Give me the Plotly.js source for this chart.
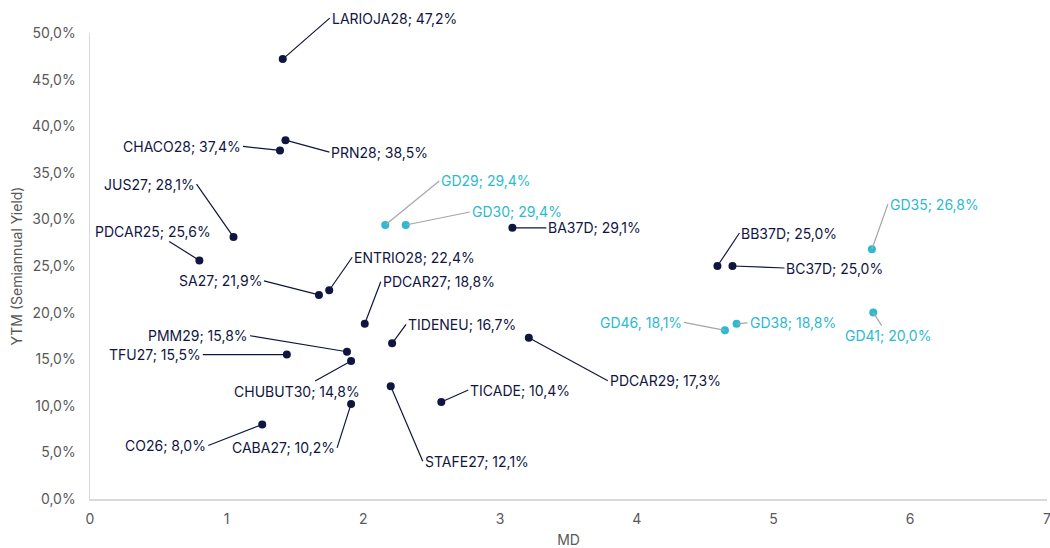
<!DOCTYPE html>
<html>
<head>
<meta charset="utf-8">
<script src="https://cdn.plot.ly/plotly-3.0.1.min.js"></script>
<style>html,body{margin:0;padding:0;background:#fff}#chart{width:1050px;height:548px}</style>
</head>
<body>
<div id="chart"></div>
<script>
// Provincial / corporate bonds (navy)
const bondNames = ["LARIOJA28","PRN28","CHACO28","JUS27","PDCAR25","SA27","ENTRIO28","PDCAR27","TIDENEU","PMM29","TFU27","CHUBUT30","CABA27","CO26","STAFE27","TICADE","PDCAR29","BA37D","BB37D","BC37D"];
const bondMD = [1.41,1.43,1.39,1.05,0.80,1.675,1.75,2.01,2.21,1.88,1.44,1.91,1.91,1.26,2.20,2.57,3.21,3.09,4.59,4.70];
const bondYTM = [0.472,0.385,0.374,0.281,0.256,0.219,0.224,0.188,0.167,0.158,0.155,0.148,0.102,0.080,0.121,0.104,0.173,0.291,0.250,0.250];
const bondLabels = ["LARIOJA28; 47,2%","PRN28; 38,5%","CHACO28; 37,4%","JUS27; 28,1%","PDCAR25; 25,6%","SA27; 21,9%","ENTRIO28; 22,4%","PDCAR27; 18,8%","TIDENEU; 16,7%","PMM29; 15,8%","TFU27; 15,5%","CHUBUT30; 14,8%","CABA27; 10,2%","CO26; 8,0%","STAFE27; 12,1%","TICADE; 10,4%","PDCAR29; 17,3%","BA37D; 29,1%","BB37D; 25,0%","BC37D; 25,0%"];

// Sovereign GD bonds (cyan)
const gdNames = ["GD29","GD30","GD35","GD41","GD46","GD38"];
const gdMD = [2.16,2.31,5.72,5.73,4.645,4.73];
const gdYTM = [0.294,0.294,0.268,0.200,0.181,0.188];
const gdLabels = ["GD29; 29,4%","GD30; 29,4%","GD35; 26,8%","GD41; 20,0%","GD46, 18,1%","GD38; 18,8%"];

// label placement (pixel offsets from point, anchor)
const bondLabelPos = [
  [47,-41,"left"],[44,12,"left"],[-37,-4,"right"],[-37,-53,"right"],[-46,-29,"center"],
  [-55,-14,"right"],[23,-33,"left"],[16,-42,"left"],[14,-19,"left"],[-97,-16,"right"],
  [-84,0,"right"],[-54,30,"center"],[-14,44,"right"],[-54,21,"right"],[32,75,"left"],
  [27,-12,"left"],[79,43,"left"],[34,0,"left"],[22,-33,"left"],[52,2,"left"]
];
const gdLabelPos = [[54,-44,"left"],[64,-13,"left"],[16,-45,"left"],[15,23,"center"],[-41,-8,"right"],[11,-1,"left"]];

const NAVY = "#10163f";
const CYAN = "#2cb9d1";
const LEADER_GD = "#a6a6a6";
const FONT = "Inter, 'Open Sans', sans-serif";

const traces = [
  {x: bondMD, y: bondYTM, text: bondNames, type: "scatter", mode: "markers",
   marker: {color: NAVY, size: 8}, hoverinfo: "text", showlegend: false},
  {x: gdMD, y: gdYTM, text: gdNames, type: "scatter", mode: "markers",
   marker: {color: CYAN, size: 8}, hoverinfo: "text", showlegend: false}
];

const annotations = [];
bondMD.forEach((xv, i) => {
  const p = bondLabelPos[i];
  annotations.push({x: xv, y: bondYTM[i], text: bondLabels[i], showarrow: true, arrowhead: 0,
    arrowwidth: 1.2, arrowcolor: NAVY, ax: p[0], ay: p[1], xanchor: p[2], yanchor: "middle",
    font: {family: FONT, size: 14, color: NAVY}, standoff: 0});
});
gdMD.forEach((xv, i) => {
  const p = gdLabelPos[i];
  annotations.push({x: xv, y: gdYTM[i], text: gdLabels[i], showarrow: true, arrowhead: 0,
    arrowwidth: 1.2, arrowcolor: LEADER_GD, ax: p[0], ay: p[1], xanchor: p[2], yanchor: "middle",
    font: {family: FONT, size: 14, color: CYAN}, standoff: 0});
});

const layout = {
  width: 1050, height: 548,
  margin: {l: 90, r: 3, t: 33, b: 49},
  paper_bgcolor: "#ffffff", plot_bgcolor: "#ffffff",
  separators: ",.",
  font: {family: FONT, size: 14, color: "#595959"},
  showlegend: false,
  xaxis: {range: [0, 7.001], dtick: 1, tick0: 0, showgrid: false, zeroline: false,
    showline: true, linecolor: "#d9d9d9", linewidth: 1.5, ticks: "",
    ticklabeloverflow: "allow", ticklabelstandoff: 7,
    tickfont: {family: FONT, size: 14, color: "#595959"},
    title: {text: "MD", font: {family: FONT, size: 14, color: "#595959"}, standoff: 18}},
  yaxis: {range: [0, 0.5], dtick: 0.05, tick0: 0, tickformat: ".1%", showgrid: false, zeroline: false,
    showline: true, linecolor: "#d9d9d9", linewidth: 1.5, ticks: "", ticklen: 0,
    ticklabelstandoff: 10,
    tickfont: {family: FONT, size: 14, color: "#595959"},
    title: {text: "YTM (Semiannual Yield)", font: {family: FONT, size: 14, color: "#595959"}, standoff: 6}},
  annotations: annotations
};

Plotly.newPlot("chart", traces, layout, {displayModeBar: false, staticPlot: true});
</script>
</body>
</html>
